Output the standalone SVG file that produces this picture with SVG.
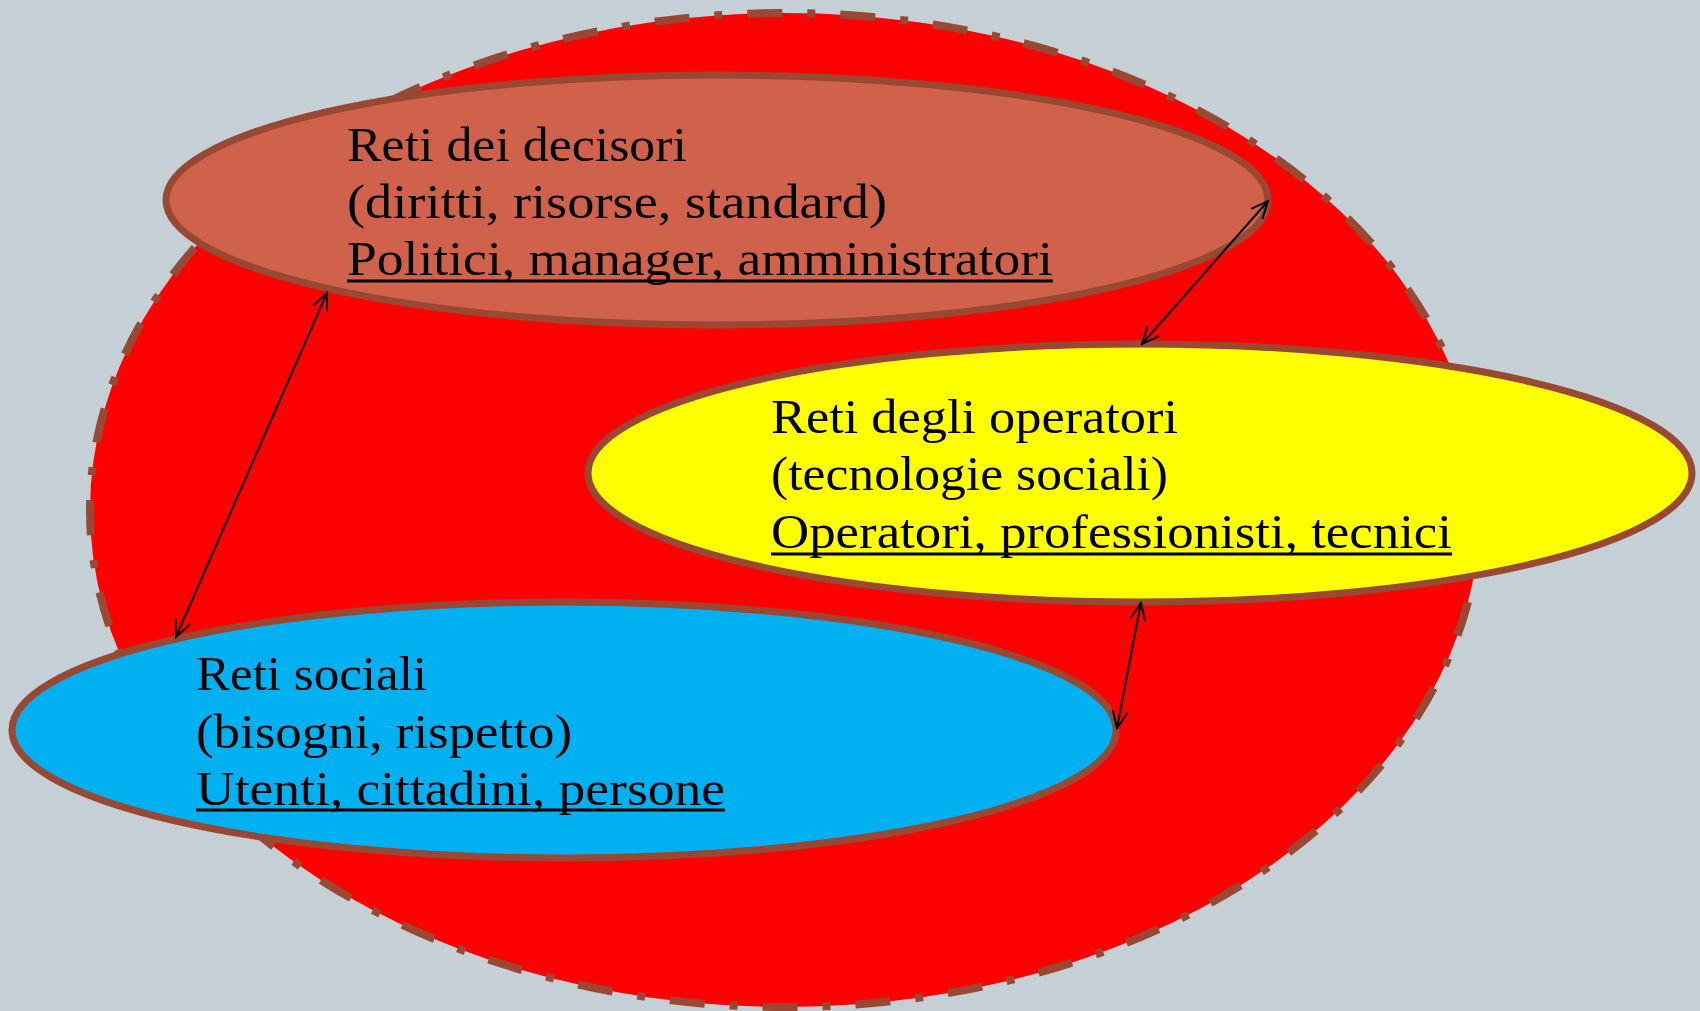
<svg xmlns="http://www.w3.org/2000/svg" width="1700" height="1011" viewBox="0 0 1700 1011">
<style>
.lbl{font-family:"Liberation Serif","Times New Roman",serif;font-size:48px;fill:#000}
.ul{stroke:#000;stroke-width:3}
.node{stroke:#984833;stroke-width:7}
.conn{stroke:#000;stroke-width:2;fill:none;marker-start:url(#ah);marker-end:url(#ah)}
</style>
<defs>
<marker id="ah" viewBox="0 0 20 20" refX="18" refY="10" markerWidth="20" markerHeight="20" markerUnits="userSpaceOnUse" orient="auto-start-reverse">
<path d="M1,2.5 L18,10 L1,17.5" fill="none" stroke="#000" stroke-width="2"/>
</marker>
</defs>
<rect width="1700" height="1011" fill="#C5D0D6"/>
<g id="outer">
<ellipse cx="785" cy="510" rx="695" ry="497" fill="#FF0000" stroke="#984833" stroke-width="8" stroke-dasharray="35 25 8 25"/>
</g>
<g id="decisori">
<ellipse class="node" cx="717" cy="200" rx="551" ry="125" fill="#D0614A"/>
<text class="lbl" x="347" y="161" textLength="340" lengthAdjust="spacingAndGlyphs">Reti dei decisori</text>
<text class="lbl" x="347" y="218" textLength="540" lengthAdjust="spacingAndGlyphs">(diritti, risorse, standard)</text>
<text class="lbl" x="347" y="275" textLength="706" lengthAdjust="spacingAndGlyphs">Politici, manager, amministratori</text>
<line class="ul" x1="347" y1="281" x2="1053" y2="281"/>
</g>
<g id="operatori">
<ellipse class="node" cx="1140" cy="473" rx="552" ry="129" fill="#FFFF00"/>
<text class="lbl" x="771" y="433" textLength="407" lengthAdjust="spacingAndGlyphs">Reti degli operatori</text>
<text class="lbl" x="771" y="490" textLength="397" lengthAdjust="spacingAndGlyphs">(tecnologie sociali)</text>
<text class="lbl" x="771" y="548" textLength="681" lengthAdjust="spacingAndGlyphs">Operatori, professionisti, tecnici</text>
<line class="ul" x1="771" y1="554" x2="1452" y2="554"/>
</g>
<g id="sociali">
<ellipse class="node" cx="564" cy="730" rx="552" ry="128" fill="#00B0F0"/>
<text class="lbl" x="196" y="690" textLength="231" lengthAdjust="spacingAndGlyphs">Reti sociali</text>
<text class="lbl" x="196" y="748" textLength="376" lengthAdjust="spacingAndGlyphs">(bisogni, rispetto)</text>
<text class="lbl" x="196" y="805" textLength="529" lengthAdjust="spacingAndGlyphs">Utenti, cittadini, persone</text>
<line class="ul" x1="196" y1="810" x2="725" y2="810"/>
</g>
<g id="connectors">
<line class="conn" x1="327" y1="293" x2="176" y2="637"/>
<line class="conn" x1="1268" y1="201" x2="1142" y2="344"/>
<line class="conn" x1="1141" y1="603" x2="1117" y2="728"/>
</g>
</svg>
